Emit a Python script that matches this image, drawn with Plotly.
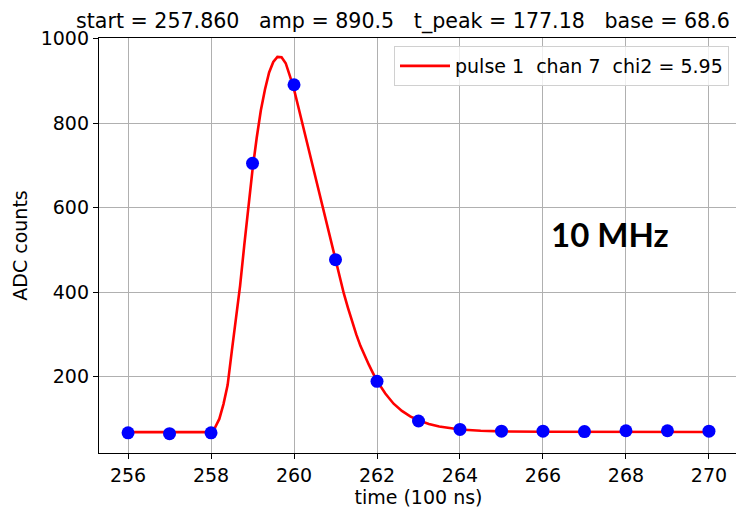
import plotly.graph_objects as go

# sampled ADC values
sample_t = [256, 257, 258, 259, 260, 261, 262, 263, 264, 265, 266, 267, 268, 269, 270]
sample_adc = [67, 65, 67, 705, 891, 477, 189, 95, 75, 71, 71, 70, 72, 72, 71]

# fitted pulse curve
fit_t = [256, 257, 258.0, 258.1, 258.2, 258.3, 258.4, 258.5, 258.6, 258.7, 258.8, 258.9,
         259.0, 259.1, 259.2, 259.3, 259.4, 259.5, 259.6, 259.7, 259.8, 259.9,
         260.0, 260.1, 260.2, 260.3, 260.4, 260.5, 260.6, 260.7, 260.8, 260.9,
         261.0, 261.1, 261.2, 261.3, 261.4, 261.5, 261.6, 261.7, 261.8, 261.9,
         262.0, 262.2, 262.4, 262.6, 262.8, 263.0, 263.25, 263.5, 263.75, 264.0,
         264.5, 265, 266, 267, 268, 269, 270]
fit_adc = [68.6, 68.6, 68.6, 80, 100, 135, 180, 260, 340, 415, 510, 605,
           690, 765, 830, 880, 920, 945, 957, 956, 942, 912,
           880, 840, 800, 760, 720, 680, 637, 596, 555, 515,
           475, 435, 397, 363, 330, 300, 273, 250, 229, 209,
           190, 160, 136, 119, 106, 97, 88, 82, 78, 75,
           72, 70.5, 69.5, 69, 69, 69, 69]

title_text = "start = 257.860   amp = 890.5   t_peak = 177.18   base = 68.6"
legend_text = "pulse 1  chan 7  chi2 = 5.95"
x_ticks = [256, 258, 260, 262, 264, 266, 268, 270]
y_ticks = [200, 400, 600, 800, 1000]

FONT = "DejaVu Sans"
NB = "\u00a0"

# page body has an 8px margin: figure is drawn offset by (8, 8)
OFF = 8
PL, PR, PT, PB = 99, 738, 38, 452.7   # plot box in window pixels
FW, FH = 744 - OFF, 511 - OFF

fig = go.Figure()
fig.add_trace(go.Scatter(
    x=fit_t, y=fit_adc, mode="lines",
    line=dict(color="#ff0000", width=2.6),
    name=legend_text.replace(" ", NB),
))
fig.add_trace(go.Scatter(
    x=sample_t, y=sample_adc, mode="markers",
    marker=dict(color="#0000ff", size=13),
    showlegend=False,
))

axis_common = dict(
    showline=True, linecolor="black", linewidth=1.3, mirror=True,
    ticks="outside", ticklen=5, tickwidth=1.2, tickcolor="black",
    showgrid=True, gridcolor="#b0b0b0", gridwidth=1,
    zeroline=False, automargin=False,
    tickfont=dict(family=FONT, size=19, color="black"),
)

fig.update_xaxes(range=[255.3, 270.7], tickvals=x_ticks,
                 title=dict(text="time (100 ns)", font=dict(family=FONT, size=19, color="black"), standoff=4),
                 **axis_common)
fig.update_yaxes(range=[19.3, 1001.7], tickvals=y_ticks,
                 title=dict(text="ADC counts", font=dict(family=FONT, size=19, color="black"), standoff=8),
                 **axis_common)

pw = PR - PL
ph = PB - PT
fig.add_annotation(
    text=title_text.replace(" ", NB), xref="paper", yref="paper",
    x=(74 - PL) / pw, y=1.0, xanchor="left", yanchor="bottom", yshift=2,
    showarrow=False, font=dict(family=FONT, size=20.6, color="black"),
)
fig.add_annotation(
    text="<b>10 MHz</b>", xref="paper", yref="paper",
    x=(610 - PL) / pw, y=(PB - 234) / ph, xanchor="center", yanchor="middle",
    showarrow=False, font=dict(family="Lato", size=33, color="black"),
)

fig.update_layout(
    width=FW, height=FH,
    margin=dict(l=PL - OFF, r=FW - (PR - OFF), t=PT - OFF, b=FH - (PB - OFF)),
    paper_bgcolor="white", plot_bgcolor="white",
    font=dict(family=FONT, size=19, color="black"),
    legend=dict(x=(729 - PL) / pw, y=(PB - 46) / ph, xanchor="right", yanchor="top",
                itemwidth=50,
                bgcolor="rgba(255,255,255,0.8)", bordercolor="#d0d0d0", borderwidth=1,
                font=dict(family=FONT, size=19, color="black")),
)

fig.write_html("out.html")
